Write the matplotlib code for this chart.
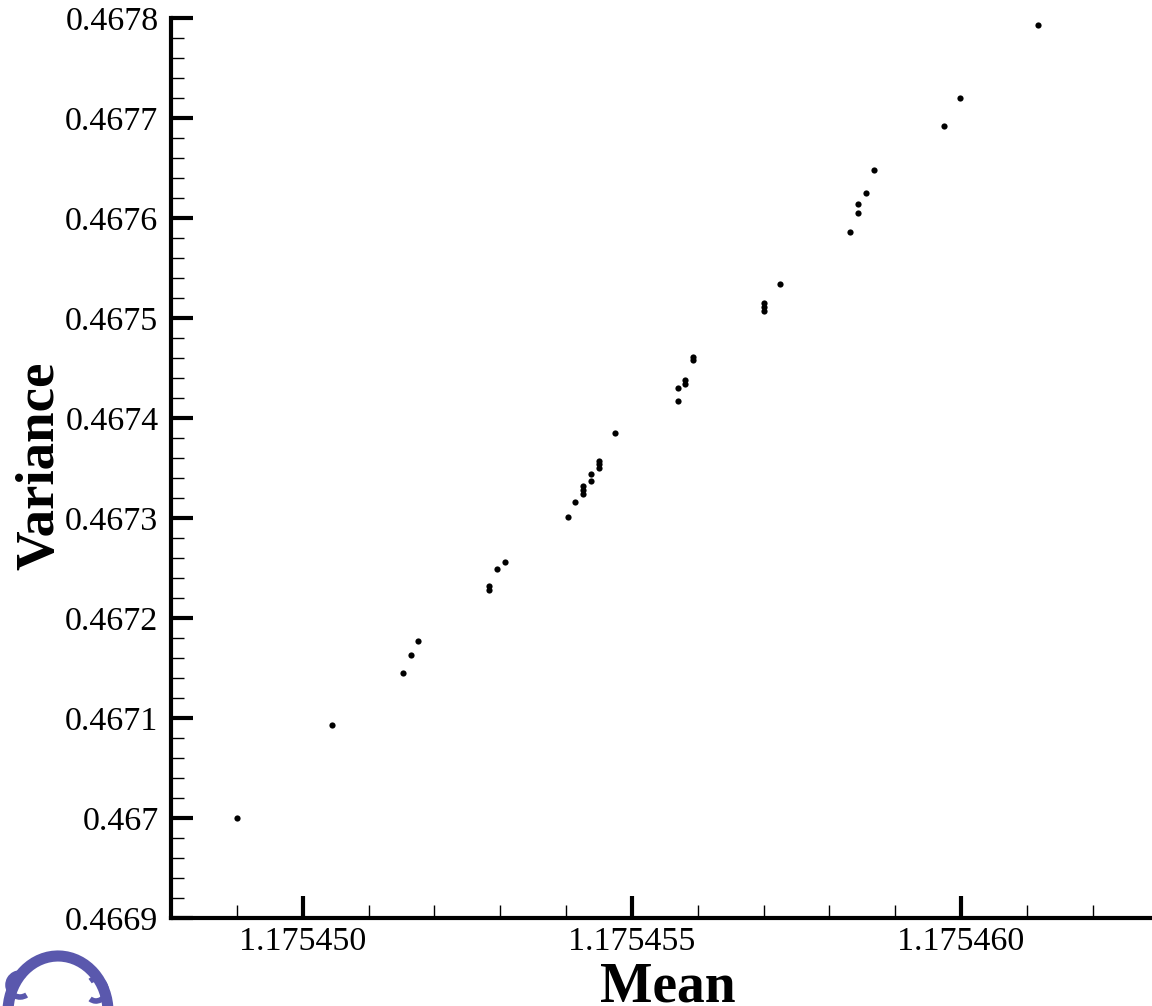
import matplotlib
matplotlib.use("Agg")
import matplotlib.pyplot as plt
from matplotlib.patches import Arc
from matplotlib.ticker import MultipleLocator, FixedLocator, FixedFormatter

# data
mean = [1.17544901, 1.17545044, 1.17545152, 1.17545164, 1.17545175,
        1.17545283, 1.17545283, 1.17545295, 1.17545307,
        1.17545403, 1.17545413, 1.17545426, 1.17545426, 1.17545426,
        1.17545438, 1.17545438, 1.17545450, 1.17545450, 1.17545450,
        1.17545474, 1.17545570, 1.17545570, 1.17545581, 1.17545581,
        1.17545593, 1.17545593, 1.17545701, 1.17545701, 1.17545701,
        1.17545725, 1.17545831, 1.17545844, 1.17545844, 1.17545856,
        1.17545868, 1.17545974, 1.17545999, 1.17546117]
variance = [0.467000, 0.467093, 0.467145, 0.467163, 0.467177,
            0.467228, 0.467232, 0.467249, 0.467256,
            0.467301, 0.467316, 0.467324, 0.467328, 0.467332,
            0.467337, 0.467344, 0.467350, 0.467354, 0.467357,
            0.467385, 0.467417, 0.467430, 0.467434, 0.467438,
            0.467458, 0.467461, 0.467507, 0.467511, 0.467515,
            0.467534, 0.467586, 0.467605, 0.467614, 0.467625,
            0.467648, 0.467692, 0.467720, 0.467793]

x_ticks = [1.175450, 1.175455, 1.175460]
x_tick_labels = ["1.175450", "1.175455", "1.175460"]
y_ticks = [0.4669, 0.4670, 0.4671, 0.4672, 0.4673, 0.4674, 0.4675, 0.4676, 0.4677, 0.4678]
y_tick_labels = ["0.4669", "0.467", "0.4671", "0.4672", "0.4673",
                 "0.4674", "0.4675", "0.4676", "0.4677", "0.4678"]

plt.rcParams['font.family'] = ['Liberation Serif', 'DejaVu Serif']

W, H = 1152, 1006
fig = plt.figure(figsize=(W / 100, H / 100), dpi=100)
ax = fig.add_axes([171 / W, 88 / H, (W - 171) / W, 900 / H])

ax.scatter(mean, variance, s=20, color='black', linewidths=0, zorder=3)

ax.set_xlim(1.175448, 1.1754629)
ax.set_ylim(0.4669, 0.4678)

ax.xaxis.set_major_locator(FixedLocator(x_ticks))
ax.xaxis.set_major_formatter(FixedFormatter(x_tick_labels))
ax.xaxis.set_minor_locator(MultipleLocator(1e-6))
ax.yaxis.set_major_locator(FixedLocator(y_ticks))
ax.yaxis.set_major_formatter(FixedFormatter(y_tick_labels))
ax.yaxis.set_minor_locator(MultipleLocator(2e-5))

for side in ['top', 'right']:
    ax.spines[side].set_visible(False)
for side in ['left', 'bottom']:
    ax.spines[side].set_linewidth(3)

ax.tick_params(which='major', direction='in', length=16, width=3,
               labelsize=24.5, pad=9)
ax.tick_params(which='minor', direction='in', length=9.5, width=1)
ax.tick_params(axis='x', which='major', pad=6)

ax.set_xlabel('Mean', fontsize=40, fontweight='bold')
ax.xaxis.set_label_coords(0.506, -0.0925)
ax.xaxis.label.set_va('baseline')
ax.set_ylabel('Variance', fontsize=39.5, fontweight='bold')
ax.yaxis.set_label_coords(-0.120, 0.502)
ax.yaxis.label.set_va('baseline')

# rough stand-in for the blue logo in the bottom-left corner
logo = '#5a58ad'
fig.add_artist(Arc((58 / W, 1 - 1012 / H), 100 / W, 112 / H, theta1=0, theta2=175,
                   color=logo, linewidth=8, transform=fig.transFigure))
fig.add_artist(Arc((20 / W, 1 - 985 / H), 24 / W, 24 / H, theta1=60, theta2=300,
                   color=logo, linewidth=4, transform=fig.transFigure))
fig.add_artist(Arc((96 / W, 1 - 990 / H), 20 / W, 22 / H, theta1=-120, theta2=120,
                   color=logo, linewidth=4, transform=fig.transFigure))

fig.savefig('out.png', dpi=100, facecolor='white')
